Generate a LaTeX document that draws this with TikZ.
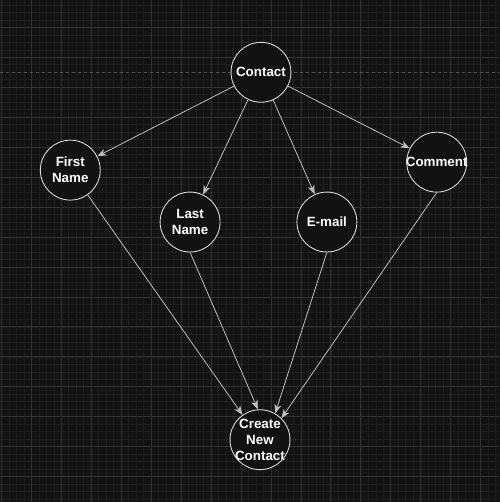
\documentclass[tikz,border=0pt]{standalone}
\usepackage{fontspec}
\setmainfont{Liberation Sans}
\usepackage{tikz}
\usetikzlibrary{bayesnet,arrows.meta}
\pgfdeclarelayer{bg}
\pgfdeclarelayer{canvas}
\pgfsetlayers{canvas,bg,main}

\definecolor{pagebg}{RGB}{19,19,19}
\definecolor{gridminor}{RGB}{29,29,29}
\definecolor{gridmajor}{RGB}{48,48,48}
\definecolor{pagebreak}{RGB}{80,80,80}
\definecolor{nodeline}{RGB}{215,215,215}
\definecolor{nodefill}{RGB}{18,18,18}
\definecolor{edgeline}{RGB}{190,190,190}

\tikzset{
  field/.style={circle, draw=nodeline, fill=nodefill, line width=0.9pt,
    minimum size=60pt, inner sep=0pt},
  fieldtext/.style={align=center, text=white, inner sep=0pt,
    font=\bfseries\fontsize{13.4}{16}\selectfont},
  link/.style={draw=edgeline, line width=0.8pt,
    -{Stealth[length=9pt, width=7pt, inset=2.5pt]}}
}

\begin{document}
\begin{tikzpicture}[x=1pt, y=-1pt]

    % canvas and grid
    \begin{pgfonlayer}{canvas}
        \fill[pagebg] (0,0) rectangle (500,502);
        \foreach \x in {1,8.5,...,500} \draw[gridminor, line width=0.6pt] (\x,0) -- (\x,502);
        \foreach \y in {4.5,12,...,502} \draw[gridminor, line width=0.6pt] (0,\y) -- (500,\y);
        \foreach \x in {1,31,...,500} \draw[gridmajor, line width=0.8pt] (\x,0) -- (\x,502);
        \foreach \y in {27,57,...,502} \draw[gridmajor, line width=0.8pt] (0,\y) -- (500,\y);
        \draw[pagebreak, line width=0.8pt, dash pattern=on 3pt off 3pt] (0,72) -- (500,72);
    \end{pgfonlayer}
    \useasboundingbox (0,0) rectangle (500,502);

    \node[field, label={[fieldtext]center:Contact}]             (contact) at (261,72)  {};
    \node[field, label={[fieldtext]center:First\\Name}]         (first)   at (70,170)  {};
    \node[field, label={[fieldtext]center:Last\\Name}]          (last)    at (190,222) {};
    \node[field, label={[fieldtext]center:E-mail}]              (email)   at (327,222) {};
    \node[field, label={[fieldtext]center:Comment}]             (comment) at (437,162) {};
    \node[field, label={[fieldtext]center:Create\\New\\Contact}] (create)  at (260,440) {};

    \begin{pgfonlayer}{bg}
        \edge[link] {contact} {first,last,email,comment};
        \edge[link] {first} {create};
        \edge[link] {last.south} {create.94};
        \edge[link] {email.south} {create.60};
        \edge[link] {comment.south} {create.45};
    \end{pgfonlayer}

\end{tikzpicture}
\end{document}
